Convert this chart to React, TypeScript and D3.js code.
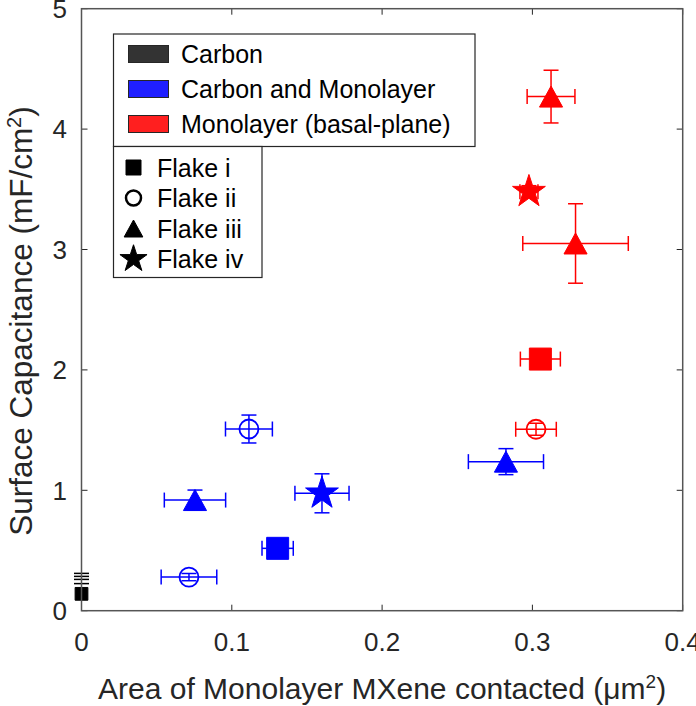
import React from 'react';
import * as d3 from 'd3';

const W = 696;
const H = 706;

const xTicks = [0, 0.1, 0.2, 0.3, 0.4];
const xTickLabels = ['0', '0.1', '0.2', '0.3', '0.4'];
const yTicks = [0, 1, 2, 3, 4, 5];
const yTickLabels = ['0', '1', '2', '3', '4', '5'];

const groupNames = ['Carbon', 'Carbon and Monolayer', 'Monolayer (basal-plane)'];
const flakeNames = ['Flake i', 'Flake ii', 'Flake iii', 'Flake iv'];

// data points
const pointGroup = [0, 1, 1, 1, 1, 1, 1, 2, 2, 2, 2, 2];
const pointFlake = [0, 0, 1, 1, 2, 2, 3, 0, 1, 2, 2, 3];
const pointX = [0, 0.1305, 0.1114, 0.0715, 0.0755, 0.2824, 0.16, 0.3053, 0.3024, 0.3287, 0.3124, 0.2977];
const pointY = [0.14, 0.518, 1.509, 0.279, 0.919, 1.238, 0.975, 2.09, 1.507, 3.05, 4.27, 3.48];
const pointXErr = [0, 0.0104, 0.0156, 0.0185, 0.0204, 0.025, 0.018, 0.0133, 0.0135, 0.0351, 0.0159, 0.006];
const pointYErr = [0, 0.03, 0.116, 0.03, 0.083, 0.108, 0.162, 0.04, 0.05, 0.33, 0.219, 0.05];
// extra carbon error-bar caps at x = 0
const carbonCapY = [0.31, 0.285, 0.26, 0.225];

const groupSwatch = ['#333333', '#1f1fff', '#ff1f1f'];
const groupColor = ['#000000', '#0000ff', '#ff0000'];
const FONT = '"Liberation Sans", Arial, Helvetica, sans-serif';

function markerPath(shape: number, s: number): string {
  if (shape === 0) {
    const h = s / 2;
    return `M${-h},${-h}H${h}V${h}H${-h}Z`;
  }
  if (shape === 1) {
    const r = s / 2;
    return `M${r},0A${r},${r} 0 1,1 ${-r},0A${r},${r} 0 1,1 ${r},0Z`;
  }
  if (shape === 2) {
    const w = s * 1.1;
    const h = s;
    return `M0,${-h / 2}L${w / 2},${h / 2}L${-w / 2},${h / 2}Z`;
  }
  const R = s * 0.75;
  const r = R * 0.382;
  const pts: string[] = [];
  for (let i = 0; i < 10; i++) {
    const a = -Math.PI / 2 + (i * Math.PI) / 5;
    const rr = i % 2 === 0 ? R : r;
    pts.push(`${(rr * Math.cos(a)).toFixed(2)},${(rr * Math.sin(a)).toFixed(2)}`);
  }
  return 'M' + pts.join('L') + 'Z';
}

const shapeSize = [22, 19, 21, 23];

export default function App() {
  const x = d3.scaleLinear().domain([0, 0.4]).range([81.5, 682.7]);
  const y = d3.scaleLinear().domain([0, 5]).range([610.7, 8.7]);
  const [x0, x1] = x.range();
  const [y0, y1] = y.range();
  const tickLen = 6;
  const cap = 7.5;

  const idx = d3.range(pointX.length);

  return (
    <svg width={W} height={H} style={{ position: 'absolute', left: 0, top: 0, background: '#fff' }} fontFamily={FONT}>
      <rect x={0} y={0} width={W} height={H} fill="#fff" />
      {/* ticks */}
      {xTicks.map((t, i) => (
        <g key={'xt' + i}>
          <line x1={x(t)} x2={x(t)} y1={y0} y2={y0 - tickLen} stroke="#262626" strokeWidth={1} />
          <line x1={x(t)} x2={x(t)} y1={y1} y2={y1 + tickLen} stroke="#262626" strokeWidth={1} />
          <text x={x(t)} y={651} textAnchor="middle" fontSize={26} fill="#262626">{xTickLabels[i]}</text>
        </g>
      ))}
      {yTicks.map((t, i) => (
        <g key={'yt' + i}>
          <line x1={x0} x2={x0 + tickLen} y1={y(t)} y2={y(t)} stroke="#262626" strokeWidth={1} />
          <line x1={x1} x2={x1 - tickLen} y1={y(t)} y2={y(t)} stroke="#262626" strokeWidth={1} />
          <text x={67} y={y(t)} dy="0.36em" textAnchor="end" fontSize={26} fill="#262626">{yTickLabels[i]}</text>
        </g>
      ))}

      {/* error bars */}
      {idx.map((i) => {
        const c = groupColor[pointGroup[i]];
        const cx = x(pointX[i]);
        const cy = y(pointY[i]);
        const xl = x(pointX[i] - pointXErr[i]);
        const xr = x(pointX[i] + pointXErr[i]);
        const yt = y(pointY[i] + pointYErr[i]);
        const yb = y(pointY[i] - pointYErr[i]);
        return (
          <g key={'eb' + i} stroke={c} strokeWidth={1.5} fill="none">
            {pointXErr[i] > 0 && (
              <>
                <line x1={xl} x2={xr} y1={cy} y2={cy} />
                <line x1={xl} x2={xl} y1={cy - cap} y2={cy + cap} />
                <line x1={xr} x2={xr} y1={cy - cap} y2={cy + cap} />
              </>
            )}
            {pointYErr[i] > 0 && (
              <>
                <line x1={cx} x2={cx} y1={yt} y2={yb} />
                <line x1={cx - cap} x2={cx + cap} y1={yt} y2={yt} />
                <line x1={cx - cap} x2={cx + cap} y1={yb} y2={yb} />
              </>
            )}
          </g>
        );
      })}
      {carbonCapY.map((v, i) => (
        <line key={'cc' + i} x1={x(0) - cap} x2={x(0) + cap} y1={y(v)} y2={y(v)} stroke="#000" strokeWidth={1.5} />
      ))}

      {/* markers */}
      {idx.map((i) => {
        const c = groupColor[pointGroup[i]];
        const sh = pointFlake[i];
        const s = shapeSize[sh] * (pointGroup[i] === 0 ? 0.58 : 1);
        const open = sh === 1;
        return (
          <path
            key={'m' + i}
            d={markerPath(sh, s)}
            transform={`translate(${x(pointX[i])},${y(pointY[i])})`}
            fill={open ? 'none' : c}
            stroke={c}
            strokeWidth={open ? 1.8 : 1}
          />
        );
      })}

      {/* frame */}
      <rect x={x0} y={y1} width={x1 - x0} height={y0 - y1} fill="none" stroke="#555" strokeWidth={1.5} />

      {/* legend 1 */}
      <g>
        <rect x={113.5} y={34} width={361.5} height={112.5} fill="#fff" stroke="#262626" strokeWidth={1.2} />
        {groupNames.map((g, i) => {
          const cy = 54 + i * 35;
          return (
            <g key={'lg' + i}>
              <rect x={128.5} y={cy - 8.5} width={40} height={17} fill={groupSwatch[i]} stroke="#262626" strokeWidth={1} />
              <text x={181} y={cy} dy="0.36em" fontSize={25} fill="#000">{g}</text>
            </g>
          );
        })}
      </g>
      {/* legend 2 */}
      <g>
        <rect x={113.5} y={146.5} width={148.5} height={131} fill="#fff" stroke="#262626" strokeWidth={1.2} />
        {flakeNames.map((f, i) => {
          const cy = 167.5 + i * 30.5;
          const open = i === 1;
          const s = [15, 15, 17, 19][i];
          return (
            <g key={'lf' + i}>
              <path
                d={markerPath(i, s)}
                transform={`translate(133.5,${cy})`}
                fill={open ? 'none' : '#000'}
                stroke="#000"
                strokeWidth={open ? 2.5 : 1}
              />
              <text x={157} y={cy} dy="0.36em" fontSize={25} fill="#000">{f}</text>
            </g>
          );
        })}
      </g>

      {/* axis titles */}
      <text x={(x0 + x1) / 2} y={699} textAnchor="middle" fontSize={30} fill="#262626">
        Area of Monolayer MXene contacted (μm<tspan dy={-11} fontSize={19}>2</tspan><tspan dy={11}>)</tspan>
      </text>
      <text
        transform={`translate(32,321) rotate(-90)`}
        textAnchor="middle"
        fontSize={31.5}
        fill="#262626"
      >
        Surface Capacitance (mF/cm<tspan dy={-11.5} fontSize={20}>2</tspan><tspan dy={11.5}>)</tspan>
      </text>
    </svg>
  );
}
